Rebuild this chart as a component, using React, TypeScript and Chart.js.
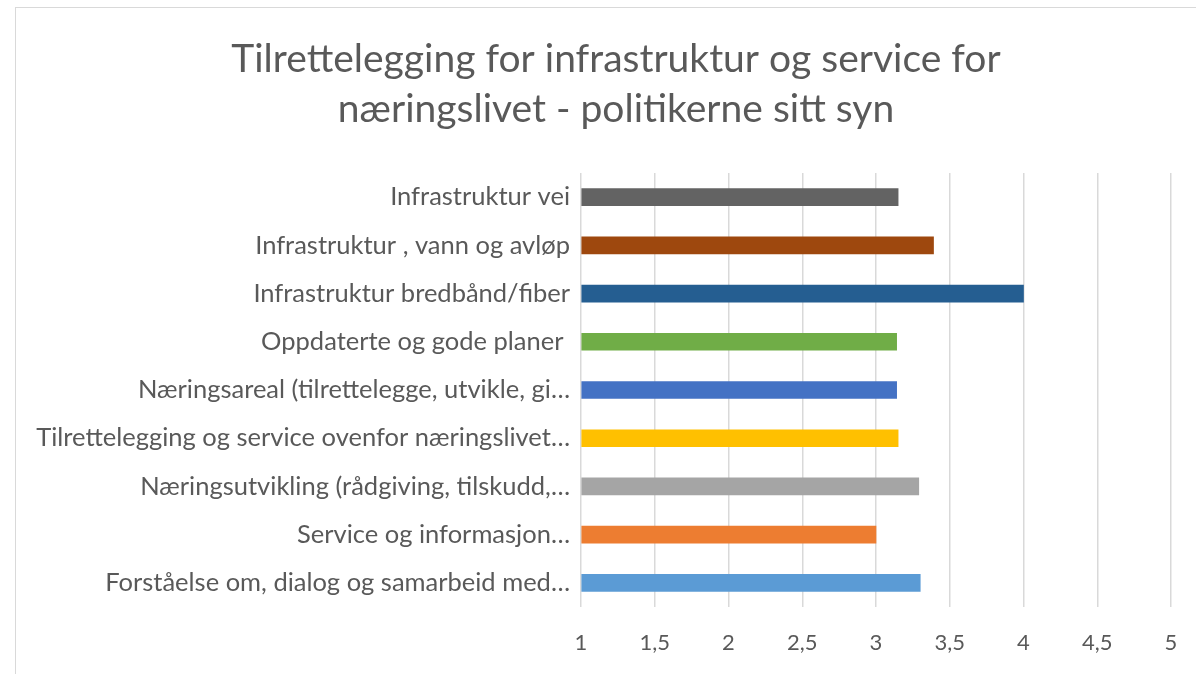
import React, { useEffect, useRef } from "react";
import { Chart, registerables } from "chart.js";

Chart.register(...registerables);

const categories: string[] = [
  "Infrastruktur vei",
  "Infrastruktur , vann og avløp",
  "Infrastruktur bredbånd/fiber",
  "Oppdaterte og gode planer ",
  "Næringsareal (tilrettelegge, utvikle, gi…",
  "Tilrettelegging og service ovenfor næringslivet…",
  "Næringsutvikling (rådgiving, tilskudd,…",
  "Service og informasjon…",
  "Forståelse om, dialog og samarbeid med…",
];

const values: number[] = [3.15, 3.39, 4.0, 3.14, 3.14, 3.15, 3.29, 3.0, 3.3];

const barColors: string[] = [
  "#636363",
  "#9E480E",
  "#255E91",
  "#70AD47",
  "#4472C4",
  "#FFC000",
  "#A5A5A5",
  "#ED7D31",
  "#5B9BD5",
];

const titleLines: string[] = [
  "Tilrettelegging for infrastruktur og service for",
  "næringslivet - politikerne sitt syn",
];

const xMin = 1;
const xMax = 5;
const xStep = 0.5;

const FONT = "Lato, 'Noto Sans', sans-serif";
const TEXT = "#595959";

export default function App() {
  const ref = useRef<HTMLCanvasElement | null>(null);

  useEffect(() => {
    document.body.style.margin = "0";
    const canvas = ref.current;
    if (!canvas) return;
    const chart = new Chart(canvas, {
      type: "bar",
      data: {
        labels: categories,
        datasets: [
          {
            data: values,
            backgroundColor: barColors,
            borderWidth: 0,
            barThickness: 17,
            base: xMin,
          } as any,
        ],
      },
      options: {
        indexAxis: "y",
        animation: false,
        responsive: false,
        maintainAspectRatio: false,
        layout: { padding: 0 },
        plugins: {
          legend: { display: false },
          tooltip: { enabled: false },
          title: {
            display: true,
            text: titleLines,
            color: TEXT,
            font: { family: FONT, size: 39, weight: "normal", lineHeight: 50 / 39 },
            padding: { top: 26, bottom: 39 },
          },
        },
        scales: {
          x: {
            type: "linear",
            min: xMin,
            max: xMax,
            ticks: {
              stepSize: xStep,
              color: TEXT,
              padding: 23,
              font: { family: FONT, size: 22 },
              callback: (v: any) => String(v).replace(".", ","),
            },
            grid: { color: "#d9d9d9", lineWidth: 1.5, drawTicks: false },
            border: { display: false },
            afterFit: (scale: any) => {
              scale.height = 67;
            },
          },
          y: {
            ticks: {
              color: TEXT,
              padding: 11,
              font: { family: FONT, size: 25.5 },
              autoSkip: false,
            },
            grid: { display: false, drawTicks: false },
            border: { display: false },
            afterFit: (scale: any) => {
              scale.width = 565;
            },
          },
          yRight: {
            type: "category",
            position: "right",
            display: true,
            ticks: { display: false },
            grid: { display: false, drawTicks: false },
            border: { display: false },
            afterFit: (scale: any) => {
              scale.width = 45;
            },
          } as any,
        },
      },
    });
    return () => chart.destroy();
  }, []);

  return (
    <div
      style={{
        position: "fixed",
        left: 0,
        top: 0,
        width: 1196,
        height: 674,
        overflow: "hidden",
        background: "#fff",
      }}
    >
      <div
        style={{
          position: "absolute",
          left: 15,
          top: 7,
          width: 1200,
          height: 700,
          border: "1px solid #d9d9d9",
          background: "#fff",
        }}
      >
        <canvas ref={ref} width={1200} height={666} style={{ display: "block" }} />
      </div>
    </div>
  );
}
